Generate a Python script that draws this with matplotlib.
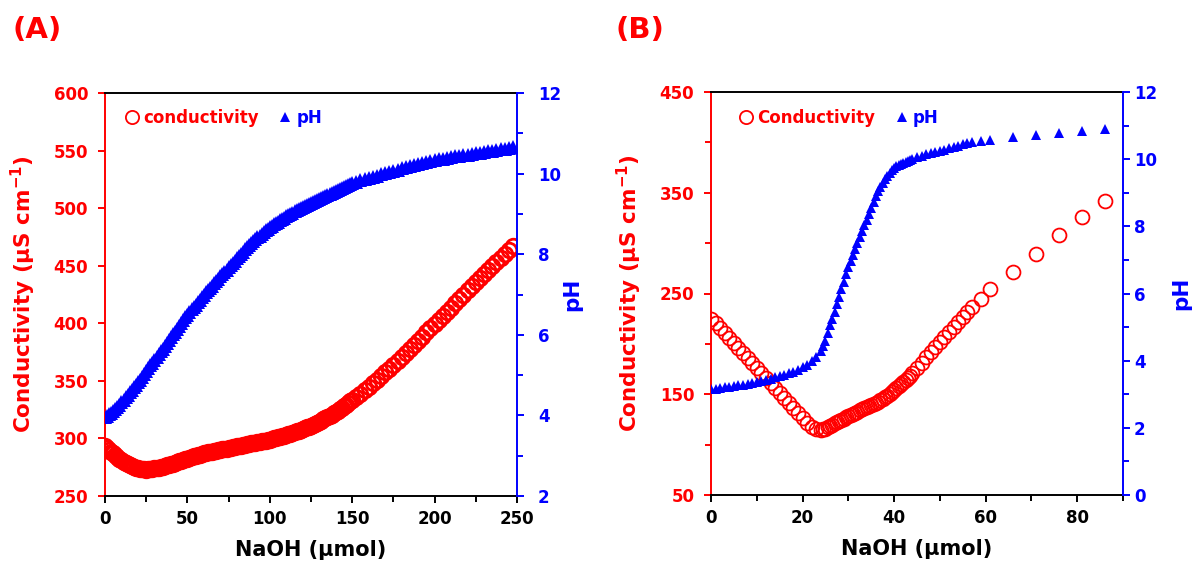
import matplotlib
matplotlib.use("Agg")
import matplotlib.pyplot as plt
from matplotlib.ticker import MultipleLocator, FixedLocator

plt.rcParams['font.family'] = ['DejaVu Sans']
plt.rcParams['font.weight'] = 'bold'

RED = '#ff0000'
BLUE = '#0000ff'

# ---------------- Panel A data ----------------
naoh_A = [0, 1.25, 2.5, 3.75, 5, 6.25, 7.5, 8.75,
          10, 11.25, 12.5, 13.75, 15, 16.25, 17.5, 18.75,
          20, 21.25, 22.5, 23.75, 25, 26.25, 27.5, 28.75,
          30, 31.25, 32.5, 33.75, 35, 36.25, 37.5, 38.75,
          40, 41.25, 42.5, 43.75, 45, 46.25, 47.5, 48.75,
          50, 51.25, 52.5, 53.75, 55, 56.25, 57.5, 58.75,
          60, 61.25, 62.5, 63.75, 65, 66.25, 67.5, 68.75,
          70, 71.25, 72.5, 73.75, 75, 76.25, 77.5, 78.75,
          80, 81.25, 82.5, 83.75, 85, 86.25, 87.5, 88.75,
          90, 91.25, 92.5, 93.75, 95, 96.25, 97.5, 98.75,
          100, 101.25, 102.5, 103.75, 105, 106.25, 107.5, 108.75,
          110, 111.25, 112.5, 113.75, 115, 116.25, 117.5, 118.75,
          120, 121.25, 122.5, 123.75, 125, 126.25, 127.5, 128.75,
          130, 131.25, 132.5, 133.75, 135, 136.25, 137.5, 138.75,
          140, 141.25, 142.5, 143.75, 145, 146.25, 147.5, 148.75,
          150,
          152.5, 155, 157.5, 160, 162.5, 165, 167.5, 170, 172.5, 175, 177.5, 180,
          182.5, 185, 187.5, 190, 192.5, 195, 197.5, 200, 202.5, 205, 207.5, 210,
          212.5, 215, 217.5, 220, 222.5, 225, 227.5, 230, 232.5, 235, 237.5, 240,
          242.5, 245, 247.5]
cond_A = [293, 291.5, 290, 288.5, 287, 285.5, 284, 282.5,
          281, 279.7, 278.5, 277.4, 276.5, 275.7, 275, 274.5,
          274, 273.6, 273.3, 273.1, 273, 273.1, 273.3, 273.6,
          274, 274.3, 274.7, 275.1, 275.5, 276, 276.5, 277,
          277.5, 278.1, 278.7, 279.3, 280, 280.6, 281.2, 281.9,
          282.5, 283.1, 283.8, 284.4, 285, 285.5, 286, 286.5,
          287, 287.4, 287.8, 288.2, 288.5, 288.9, 289.2, 289.6,
          290, 290.4, 290.8, 291.1, 291.5, 291.9, 292.2, 292.6,
          293, 293.4, 293.8, 294.1, 294.5, 294.9, 295.2, 295.6,
          296, 296.4, 296.8, 297.1, 297.5, 297.9, 298.2, 298.6,
          299, 299.5, 300, 300.5, 301, 301.5, 302, 302.5,
          303, 303.6, 304.2, 304.9, 305.5, 306.1, 306.7, 307.4,
          308, 308.7, 309.5, 310.2, 311, 311.8, 312.7, 313.6,
          314.5, 315.5, 316.5, 317.5, 318.5, 319.6, 320.7, 321.8,
          323, 324.2, 325.5, 326.7, 328, 329.3, 330.7, 332.1,
          333.5,
          336.2, 339, 342, 345, 348, 351, 354.2, 357.5, 360.7, 364, 367.5, 371,
          374.5, 378, 381.5, 385, 388.5, 392, 395.5, 399, 402.5, 406, 409.7, 413.5,
          417.2, 421, 424.7, 428.5, 432.2, 436, 439.5, 443, 446.5, 450, 453.5, 457,
          460.5, 464, 467.5]
ph_A = [3.96, 3.99, 4.03, 4.07, 4.12, 4.17, 4.22, 4.27,
        4.33, 4.39, 4.45, 4.51, 4.57, 4.63, 4.70, 4.76,
        4.83, 4.89, 4.96, 5.03, 5.10, 5.17, 5.24, 5.31,
        5.38, 5.45, 5.52, 5.59, 5.66, 5.73, 5.80, 5.87,
        5.94, 6.01, 6.08, 6.15, 6.22, 6.29, 6.36, 6.43,
        6.50, 6.56, 6.63, 6.69, 6.75, 6.81, 6.87, 6.93,
        6.99, 7.05, 7.11, 7.16, 7.22, 7.28, 7.34, 7.39,
        7.45, 7.51, 7.57, 7.62, 7.68, 7.73, 7.79, 7.84,
        7.90, 7.95, 8.01, 8.06, 8.12, 8.17, 8.23, 8.28,
        8.33, 8.38, 8.42, 8.46, 8.50, 8.55, 8.59, 8.63,
        8.67, 8.70, 8.74, 8.77, 8.81, 8.84, 8.88, 8.91,
        8.94, 8.97, 9.00, 9.03, 9.06, 9.09, 9.12, 9.14,
        9.17, 9.20, 9.22, 9.25, 9.27, 9.30, 9.32, 9.35,
        9.37, 9.40, 9.42, 9.45, 9.47, 9.50, 9.52, 9.55,
        9.57, 9.60, 9.62, 9.65, 9.67, 9.70, 9.72, 9.74,
        9.76,
        9.80, 9.83, 9.86, 9.89, 9.92, 9.95, 9.98, 10.01, 10.04, 10.07, 10.10, 10.13,
        10.16, 10.18, 10.21, 10.24, 10.27, 10.29, 10.32, 10.34, 10.36, 10.37, 10.39,
        10.41, 10.43, 10.44, 10.46, 10.47, 10.49, 10.50, 10.52, 10.53, 10.55, 10.57,
        10.58, 10.60, 10.62, 10.63, 10.65]

# ---------------- Panel B data ----------------
naoh_B = [0, 1, 2, 3, 4, 5, 6, 7, 8, 9, 10, 11, 12, 13, 14, 15, 16, 17, 18, 19, 20, 21,
          22, 23, 24, 24.5, 25, 25.5, 26, 26.5, 27, 27.5, 28, 28.5, 29, 29.5, 30, 30.5,
          31, 31.5, 32, 32.5, 33, 33.5, 34, 34.5, 35, 35.5, 36, 36.5, 37, 37.5, 38, 38.5,
          39, 39.5, 40, 40.5, 41, 41.5, 42, 42.5, 43, 43.5, 44, 45, 46, 47, 48, 49, 50,
          51, 52, 53, 54, 55, 56, 57, 59, 61, 66, 71, 76, 81, 86]
cond_B = [225, 221, 216, 211, 206, 201, 196, 191, 186, 181, 176, 171, 166, 161, 156,
          151, 146, 141, 136, 131, 126, 121, 117.5, 115.5, 115, 115.5, 116, 117, 118,
          119, 121, 122, 123, 124.5, 125.5, 127, 128, 129, 130.5, 131.5, 132.5, 134, 135,
          136, 137, 138, 139, 140, 141, 142.5, 144, 145.5, 147, 148.5, 150.5, 152, 154,
          156, 158, 160, 162, 164, 166.5, 168.5, 171, 176, 181, 186.5, 192, 197, 202,
          207, 212, 217, 222, 227, 232, 237, 245, 254.5, 271, 289, 308, 326, 342]
ph_B = [3.15, 3.17, 3.19, 3.21, 3.23, 3.25, 3.27, 3.29, 3.31, 3.34, 3.37, 3.40, 3.43,
        3.46, 3.50, 3.54, 3.58, 3.62, 3.67, 3.73, 3.80, 3.88, 3.98, 4.12, 4.30, 4.45,
        4.60, 4.82, 5.05, 5.25, 5.45, 5.68, 5.90, 6.12, 6.35, 6.58, 6.80, 6.98, 7.15,
        7.33, 7.50, 7.68, 7.85, 8.03, 8.20, 8.38, 8.55, 8.73, 8.90, 9.04, 9.17, 9.29,
        9.40, 9.50, 9.59, 9.67, 9.74, 9.79, 9.83, 9.86, 9.89, 9.92, 9.95, 9.97, 10.00,
        10.05, 10.10, 10.14, 10.18, 10.21, 10.24, 10.28, 10.32, 10.36, 10.40, 10.44,
        10.47, 10.50, 10.55, 10.58, 10.65, 10.72, 10.79, 10.84, 10.89]

# tick positions
cond_ticks_B = [50, 150, 250, 350, 450]
cond_minor_B = [100, 200, 300, 400]

fig = plt.figure(figsize=(11.93, 5.70), dpi=100)

panels = [
    dict(rect=[105/1193, 74/570, 412/1193, 403/570], x=naoh_A, c=cond_A, p=ph_A,
         xlim=(0, 250), xmaj=50, xmin=25, ylim=(250, 600), phlim=(2, 12),
         leg='conductivity', letter='(A)', letter_x=13/1193, leg_anchor=(0.046, 0.938),
         ms_c=10.5, ms_p=9.5, mew=2.0, rpad=10, ph_labelpad=1, lpad=7, ylabelpad=11),
    dict(rect=[711/1193, 75/570, 412/1193, 403/570], x=naoh_B, c=cond_B, p=ph_B,
         xlim=(0, 90), xmaj=20, xmin=10, ylim=(50, 450), phlim=(0, 12),
         leg='Conductivity', letter='(B)', letter_x=615/1193, leg_anchor=(0.0655, 0.935),
         ms_c=10, ms_p=7.5, mew=1.3, rpad=3, ph_labelpad=10, lpad=7, ylabelpad=11),
]

LW = 1.4
for P in panels:
    ax = fig.add_axes(P['rect'])
    ax2 = ax.twinx()
    l1, = ax.plot(P['x'], P['c'], linestyle='none', marker='o', markerfacecolor='none',
                  markeredgecolor=RED, markeredgewidth=P['mew'], markersize=P['ms_c'])
    l2, = ax2.plot(P['x'], P['p'], linestyle='none', marker='^', color=BLUE,
                   markersize=P['ms_p'], markeredgewidth=0)
    ax.set_xlim(*P['xlim'])
    ax.set_ylim(*P['ylim'])
    ax2.set_ylim(*P['phlim'])
    ax.xaxis.set_major_locator(MultipleLocator(P['xmaj']))
    ax.xaxis.set_minor_locator(MultipleLocator(P['xmin']))
    if P['letter'] == '(A)':
        ax.yaxis.set_major_locator(MultipleLocator(50))
    else:
        ax.yaxis.set_major_locator(FixedLocator(cond_ticks_B))
        ax.yaxis.set_minor_locator(FixedLocator(cond_minor_B))
    ax2.yaxis.set_major_locator(MultipleLocator(2))
    ax2.yaxis.set_minor_locator(MultipleLocator(1))

    # spines
    for s in ['top', 'bottom']:
        ax.spines[s].set_color('black')
        ax.spines[s].set_linewidth(LW)
    ax.spines['left'].set_color(RED)
    ax.spines['left'].set_linewidth(LW)
    ax.spines['right'].set_visible(False)
    for s in ['left', 'top', 'bottom']:
        ax2.spines[s].set_visible(False)
    ax2.spines['right'].set_color(BLUE)
    ax2.spines['right'].set_linewidth(LW)

    ax.tick_params(axis='x', which='both', direction='out', color='black', width=LW,
                   labelsize=12, pad=5, labelcolor='black')
    ax.tick_params(axis='x', which='major', length=5)
    ax.tick_params(axis='x', which='minor', length=4)
    ax.tick_params(axis='y', which='both', direction='out', color=RED, width=LW,
                   labelsize=12, labelcolor=RED, pad=P['lpad'])
    ax.tick_params(axis='y', which='major', length=5)
    ax.tick_params(axis='y', which='minor', length=4)
    ax2.tick_params(axis='y', which='both', direction='out', color=BLUE, width=LW,
                    labelsize=12, labelcolor=BLUE, pad=P['rpad'])
    ax2.tick_params(axis='y', which='major', length=5)
    ax2.tick_params(axis='y', which='minor', length=4)
    for t in ax.get_xticklabels() + ax.get_yticklabels() + ax2.get_yticklabels():
        t.set_fontweight('bold')

    ax.set_xlabel('NaOH (\u00b5mol)', fontsize=15, fontweight='bold', labelpad=9)
    ax.set_ylabel('Conductivity (\u00b5S cm$^{\\mathbf{-1}}$)', fontsize=15.5,
                  fontweight='bold', color=RED, labelpad=P['ylabelpad'])
    ax2.set_ylabel('pH', fontsize=15.5, fontweight='bold', color=BLUE,
                   labelpad=P['ph_labelpad'])

    leg = ax2.legend([l1, l2], [P['leg'], 'pH'], loc='center left',
                     bbox_to_anchor=P['leg_anchor'], ncol=2, frameon=False,
                     handlelength=1.0, handletextpad=0.15, columnspacing=1.1,
                     borderpad=0, borderaxespad=0,
                     prop=dict(size=12, weight='bold'))
    leg.get_texts()[0].set_color(RED)
    leg.get_texts()[1].set_color(BLUE)
    # legend markers at reference size
    for h in leg.legend_handles:
        if h.get_marker() == 'o':
            h.set_markersize(9.5)
            h.set_markeredgewidth(1.3)
        else:
            h.set_markersize(7.5)

    fig.text(P['letter_x'], 1 - 30/570, P['letter'], color=RED, fontsize=21,
             fontweight='bold', va='center', ha='left')

fig.savefig('out.png', dpi=100, facecolor='white')
